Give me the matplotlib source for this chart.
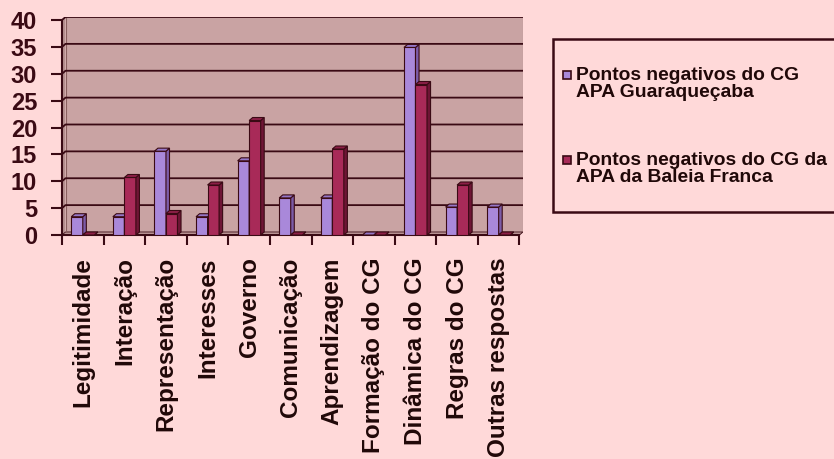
import numpy as np
import matplotlib.pyplot as plt
from matplotlib.patches import Polygon, Rectangle

# Pontos negativos do Conselho Gestor (%)
categorias = ['Legitimidade', 'Interação', 'Representação', 'Interesses', 'Governo',
              'Comunicação', 'Aprendizagem', 'Formação do CG', 'Dinâmica do CG',
              'Regras do CG', 'Outras respostas']
guaraquecaba = [3.4, 3.4, 15.6, 3.4, 13.8, 6.9, 6.9, 0.0, 34.9, 5.2, 5.2]
baleia_franca = [0.0, 10.7, 4.0, 9.3, 21.3, 0.0, 16.0, 0.0, 28.0, 9.3, 0.0]
series_nomes = ['Pontos negativos do CG\nAPA Guaraqueçaba',
                'Pontos negativos do CG da\nAPA da Baleia Franca']
yticks = [0, 5, 10, 15, 20, 25, 30, 35, 40]

bg = '#FFD9D9'
wall = '#C9A3A3'
dark = '#3A0A14'
txt = '#200808'
faces = [('#A988DA', '#7C5CA8', '#9577C8'),   # front, side, top
         ('#A82A58', '#6E1535', '#8C1F47')]
fam = 'Liberation Sans'

fig = plt.figure(figsize=(8.34, 4.59), dpi=100, facecolor=bg)
W, H = 834., 459.
ax = fig.add_axes([62/W, 1-235/H, 461/W, 218/H])
ax.set_facecolor(bg)

n = len(categorias)
dx, dy = 0.085, 0.56      # depth offset of the 3d look
w = 0.277                 # bar width
xmax = n - 0.5 + dx
ax.set_xlim(-0.5, xmax)
ax.set_ylim(0, 40 + dy)

### back wall, side wall and floor
ax.add_patch(Rectangle((-0.5+dx, dy), n, 40, fc=wall, ec='none', zorder=0))
ax.add_patch(Polygon([(-0.5, 0), (-0.5+dx, dy), (-0.5+dx, 40+dy), (-0.5, 40)],
                     fc='#B48E8E', ec='none', zorder=0))
ax.add_patch(Polygon([(-0.5, 0), (n-0.5, 0), (xmax, dy), (-0.5+dx, dy)],
                     fc='#BE9898', ec=dark, lw=0.6, zorder=0))
ax.plot([-0.5+dx, -0.5+dx], [dy, 40+dy], color='#8A6060', lw=0.8, zorder=1)
ax.plot([xmax, xmax], [dy, 40+dy], color='#A88080', lw=0.8, zorder=1)
for v in yticks[1:]:
    ax.plot([-0.5, -0.5+dx, xmax], [v, v+dy, v+dy], color=dark, lw=1.3, zorder=1)

### bars
x = np.arange(n)
for i in range(n):
    for k, vals in enumerate([guaraquecaba, baleia_franca]):
        x0 = i - w + k*w
        h = vals[i]
        front, side, top = faces[k]
        ax.bar(x0, h, width=w, align='edge', color=front, ec=dark, lw=0.8,
               zorder=3+2*i+k)
        ax.add_patch(Polygon([(x0+w, 0), (x0+w+dx, dy), (x0+w+dx, h+dy), (x0+w, h)],
                             fc=side, ec=dark, lw=0.8, zorder=3+2*i+k))
        ax.add_patch(Polygon([(x0, h), (x0+dx, h+dy), (x0+w+dx, h+dy), (x0+w, h)],
                             fc=top, ec=dark, lw=0.8, zorder=3+2*i+k))

### axes
for s in ['top', 'right']:
    ax.spines[s].set_visible(False)
ax.spines['left'].set_color(dark)
ax.spines['left'].set_linewidth(1.5)
ax.spines['left'].set_bounds(0, 40)
ax.spines['bottom'].set_color(dark)
ax.spines['bottom'].set_linewidth(1.5)
ax.spines['bottom'].set_bounds(-0.5, n-0.5)

ax.set_yticks(yticks)
ax.set_yticklabels([str(v) for v in yticks], fontsize=17, family=fam,
                   fontweight='bold', color=txt)
ax.tick_params(axis='y', colors=dark, length=8, width=1.5, pad=10)
ax.set_xticks(np.arange(-0.5, n, 1))
ax.set_xticklabels([])
ax.tick_params(axis='x', which='major', colors=dark, length=7, width=1.5)
ax.set_xticks(x, minor=True)
ax.set_xticklabels(categorias, minor=True, rotation=90, fontsize=17.5,
                   family=fam, color=txt, fontweight='heavy')
ax.tick_params(axis='x', which='minor', length=0, pad=16)

### legend box
fig.patches.append(Rectangle((553/W, 1-212/H), 300/W, 173/H, transform=fig.transFigure,
                             fc=bg, ec=dark, lw=1.8, figure=fig))
for k, (nome, ycen) in enumerate(zip(series_nomes, [84, 169])):
    fig.patches.append(Rectangle((563/W, 1-(ycen-5)/H), 8/W, 8/H,
                                 transform=fig.transFigure, fc=faces[k][0],
                                 ec=dark, lw=1.2, figure=fig))
    fig.text(576/W, 1-ycen/H, nome, fontsize=13.9, family=fam, fontweight='heavy',
             color=txt, va='center', ha='left', linespacing=1.05)

fig.savefig('out.png', dpi=100, facecolor=bg)
